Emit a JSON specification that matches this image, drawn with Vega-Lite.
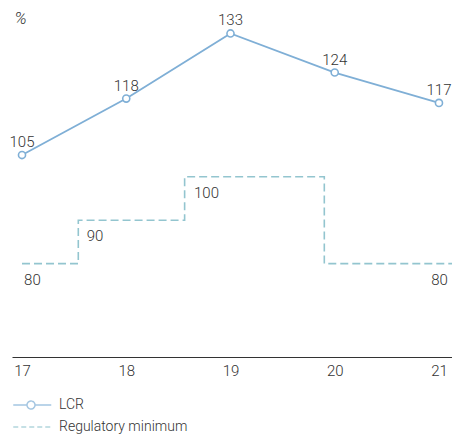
{
  "$schema": "https://vega.github.io/schema/vega-lite/v6.json",
  "autosize": {"type": "none"},
  "padding": {"left": 12, "top": 0, "right": 0, "bottom": 84},
  "width": 440,
  "height": 357,
  "config": {
    "view": {"stroke": null},
    "font": "Roboto",
    "text": {"font": "Roboto", "fontSize": 14, "color": "#333333", "fontWeight": 300}
  },
  "datasets": {
    "lcr": [
      {"year": 17, "value": 105},
      {"year": 18, "value": 118},
      {"year": 19, "value": 133},
      {"year": 20, "value": 124},
      {"year": 21, "value": 117}
    ],
    "reg": [
      {"year": 17.0, "value": 80},
      {"year": 17.54, "value": 90},
      {"year": 18.56, "value": 100},
      {"year": 19.9, "value": 80},
      {"year": 21.125, "value": 80}
    ],
    "regLabels": [
      {"year": 17.02, "value": 80, "label": "80"},
      {"year": 17.62, "value": 90, "label": "90"},
      {"year": 18.65, "value": 100, "label": "100"},
      {"year": 21.086, "value": 80, "label": "80"}
    ]
  },
  "encoding": {
    "x": {
      "field": "year",
      "type": "quantitative",
      "scale": {"domain": [16.904, 21.125], "nice": false, "zero": false},
      "axis": {
        "values": [17, 18, 19, 20, 21],
        "format": "d",
        "title": null,
        "grid": false,
        "ticks": false,
        "tickSize": 0,
        "labelPadding": 6,
        "labelFontSize": 15,
        "labelFontWeight": 300,
        "labelColor": "#333333",
        "labelFont": "Roboto",
        "domainColor": "#333333",
        "domainWidth": 1
      }
    },
    "y": {
      "field": "value",
      "type": "quantitative",
      "scale": {"domain": [58.5, 140.7], "nice": false, "zero": false},
      "axis": {
        "title": "%",
        "titleAngle": 0,
        "titleFontStyle": "italic",
        "titleFontWeight": 300,
        "titleFontSize": 17,
        "titleFont": "Roboto",
        "titleColor": "#333333",
        "titleAlign": "left",
        "titleBaseline": "middle",
        "titleX": 2,
        "titleY": 18,
        "labels": false,
        "ticks": false,
        "domain": false,
        "grid": false
      }
    }
  },
  "layer": [
    {
      "data": {"name": "reg"},
      "mark": {"type": "line", "interpolate": "step-after", "color": "#93c5cf", "strokeWidth": 1.6, "strokeDash": [8, 4]}
    },
    {
      "data": {"name": "lcr"},
      "mark": {"type": "line", "color": "#7fafd6", "strokeWidth": 1.8}
    },
    {
      "data": {"name": "lcr"},
      "mark": {"type": "point", "shape": "circle", "filled": true, "fill": "white", "stroke": "#7fafd6", "strokeWidth": 1.6, "size": 50, "opacity": 1}
    },
    {
      "data": {"name": "lcr"},
      "mark": {"type": "text", "dy": -13, "align": "center", "baseline": "middle", "fontSize": 15},
      "encoding": {"text": {"field": "value", "type": "quantitative"}}
    },
    {
      "data": {"name": "regLabels"},
      "transform": [{"filter": "datum.year < 21"}],
      "mark": {"type": "text", "dy": 16, "align": "left", "baseline": "middle", "fontSize": 15},
      "encoding": {"text": {"field": "label", "type": "nominal"}}
    },
    {
      "data": {"name": "regLabels"},
      "transform": [{"filter": "datum.year > 21"}],
      "mark": {"type": "text", "dy": 16, "align": "right", "baseline": "middle", "fontSize": 15},
      "encoding": {"text": {"field": "label", "type": "nominal"}}
    },
    {
      "data": {"values": []},
      "mark": {"type": "point", "filled": false, "strokeWidth": 1.5},
      "encoding": {
        "x": {"field": "year", "type": "quantitative"},
        "y": {"field": "value", "type": "quantitative"},
        "color": {
          "field": "series",
          "type": "nominal",
          "scale": {"domain": ["LCR", "Regulatory minimum"], "range": ["#7fafd6", "#93c5cf"]},
          "legend": {
            "orient": "none",
            "legendX": 0,
            "legendY": 398,
            "title": null,
            "symbolSize": 100,
            "symbolStrokeWidth": 1.5,
            "labelFont": "Roboto",
            "labelFontSize": 14,
            "labelFontWeight": 300,
            "labelColor": "#333333",
            "labelOffset": 33,
            "rowPadding": 8
          }
        },
        "shape": {
          "field": "series",
          "type": "nominal",
          "scale": {
            "domain": ["LCR", "Regulatory minimum"],
            "range": [
              "M-1.15,0H1.6M3.2,0H6.45M1.6,0A0.8,0.8 0 1,1 3.2,0A0.8,0.8 0 1,1 1.6,0",
              "M-1.15,0H6.45"
            ]
          }
        },
        "strokeDash": {
          "field": "series",
          "type": "nominal",
          "scale": {"domain": ["LCR", "Regulatory minimum"], "range": [[1, 0], [5, 3]]}
        }
      }
    }
  ]
}
